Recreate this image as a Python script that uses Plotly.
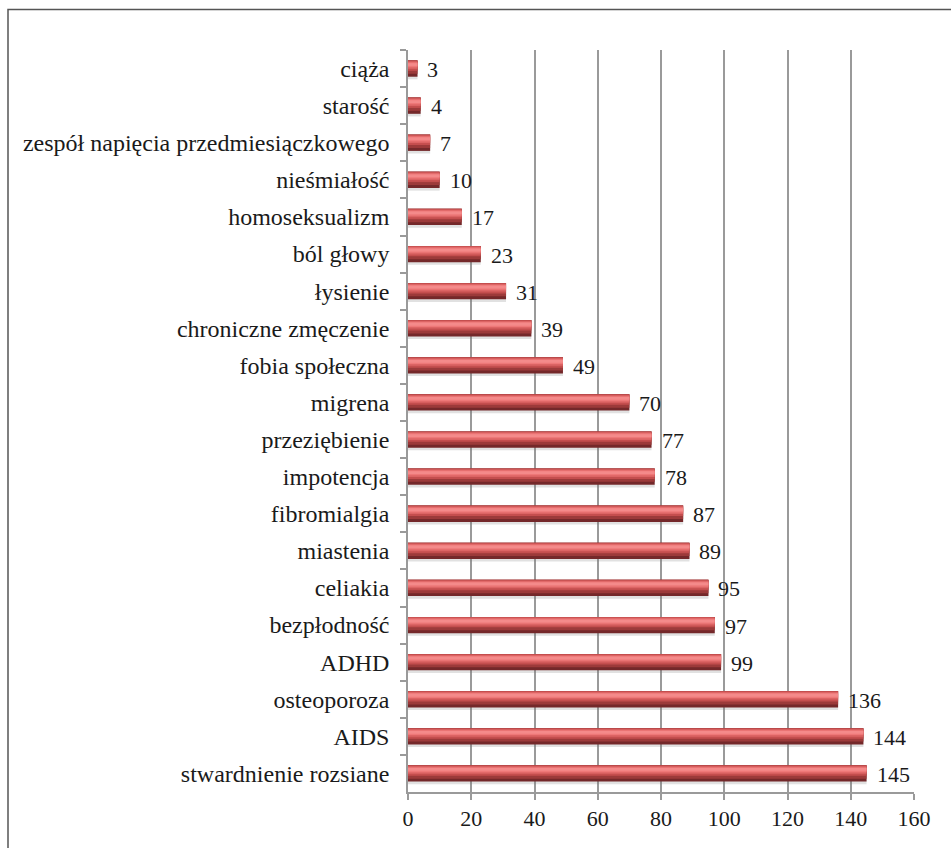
import plotly.graph_objects as go

# Conditions and counts, listed top to bottom
categories = [
    "ciąża", "starość", "zespół napięcia przedmiesiączkowego", "nieśmiałość",
    "homoseksualizm", "ból głowy", "łysienie", "chroniczne zmęczenie",
    "fobia społeczna", "migrena", "przeziębienie", "impotencja",
    "fibromialgia", "miastenia", "celiakia", "bezpłodność", "ADHD",
    "osteoporoza", "AIDS", "stwardnienie rozsiane",
]
values = [3, 4, 7, 10, 17, 23, 31, 39, 49, 70, 77, 78, 87, 89, 95, 97, 99, 136, 144, 145]
x_ticks = [0, 20, 40, 60, 80, 100, 120, 140, 160]

FONT = "Liberation Serif"
BAR_W = 0.44
TOP = -BAR_W / 2

fig = go.Figure()

# soft shadow under each bar
fig.add_trace(go.Bar(
    x=values, y=categories, orientation="h",
    width=BAR_W, offset=TOP + 0.07,
    marker=dict(color="rgba(120,120,120,0.22)", line=dict(width=0)),
    hoverinfo="skip", showlegend=False,
))

# cylinder shading: stacked bands from dark bottom to light highlight
bands = [
    (0.00, 1.00, "#74282a"),
    (0.00, 0.82, "#9c3a3a"),
    (0.00, 0.64, "#c44e4e"),
    (0.06, 0.52, "#dc6464"),
    (0.12, 0.42, "#ee7878"),
    (0.17, 0.34, "#f48a8a"),
]
for i, (start, frac, color) in enumerate(bands):
    fig.add_trace(go.Bar(
        x=values, y=categories, orientation="h",
        width=BAR_W * (frac - start), offset=TOP + BAR_W * start,
        marker=dict(color=color, line=dict(width=0)),
        hoverinfo="x+y" if i == 0 else "skip", showlegend=False,
    ))

# value labels to the right of each bar
for c, v in zip(categories, values):
    fig.add_annotation(
        x=v, y=c, text=str(v), showarrow=False,
        xanchor="left", yanchor="middle", xshift=8, yshift=-1,
        font=dict(family=FONT, size=22, color="#1a1a1a"),
    )

# outer frame of the chart
fig.add_shape(
    type="rect", xref="paper", yref="paper",
    x0=(8 - 408) / 506, x1=(960 - 408) / 506,
    y0=(792 - 860) / 742, y1=(792 - 9.5) / 742,
    line=dict(color="#555555", width=1.5), fillcolor="rgba(0,0,0,0)",
    layer="below",
)

fig.update_layout(
    width=951, height=848,
    margin=dict(l=408, r=37, t=50, b=56),
    paper_bgcolor="white", plot_bgcolor="white",
    barmode="overlay",
    font=dict(family=FONT, color="#1a1a1a"),
    xaxis=dict(
        range=[0, 160], tickvals=x_ticks, ticktext=[str(t) for t in x_ticks],
        showgrid=True, gridcolor="#9a9a9a", gridwidth=1.5,
        showline=True, linecolor="#9a9a9a", linewidth=1.5,
        ticks="outside", ticklen=6, tickcolor="#9a9a9a", tickwidth=1.5,
        tickfont=dict(family=FONT, size=22, color="#1a1a1a"),
        zeroline=False, fixedrange=True,
    ),
    yaxis=dict(
        categoryorder="array", categoryarray=categories, autorange="reversed",
        showline=True, linecolor="#9a9a9a", linewidth=1.5,
        ticks="outside", tickson="boundaries", ticklen=6,
        tickcolor="#9a9a9a", tickwidth=1.5, ticklabelstandoff=12,
        tickfont=dict(family=FONT, size=24, color="#1a1a1a"),
        showgrid=False, fixedrange=True,
    ),
)

fig.write_html("out.html")
